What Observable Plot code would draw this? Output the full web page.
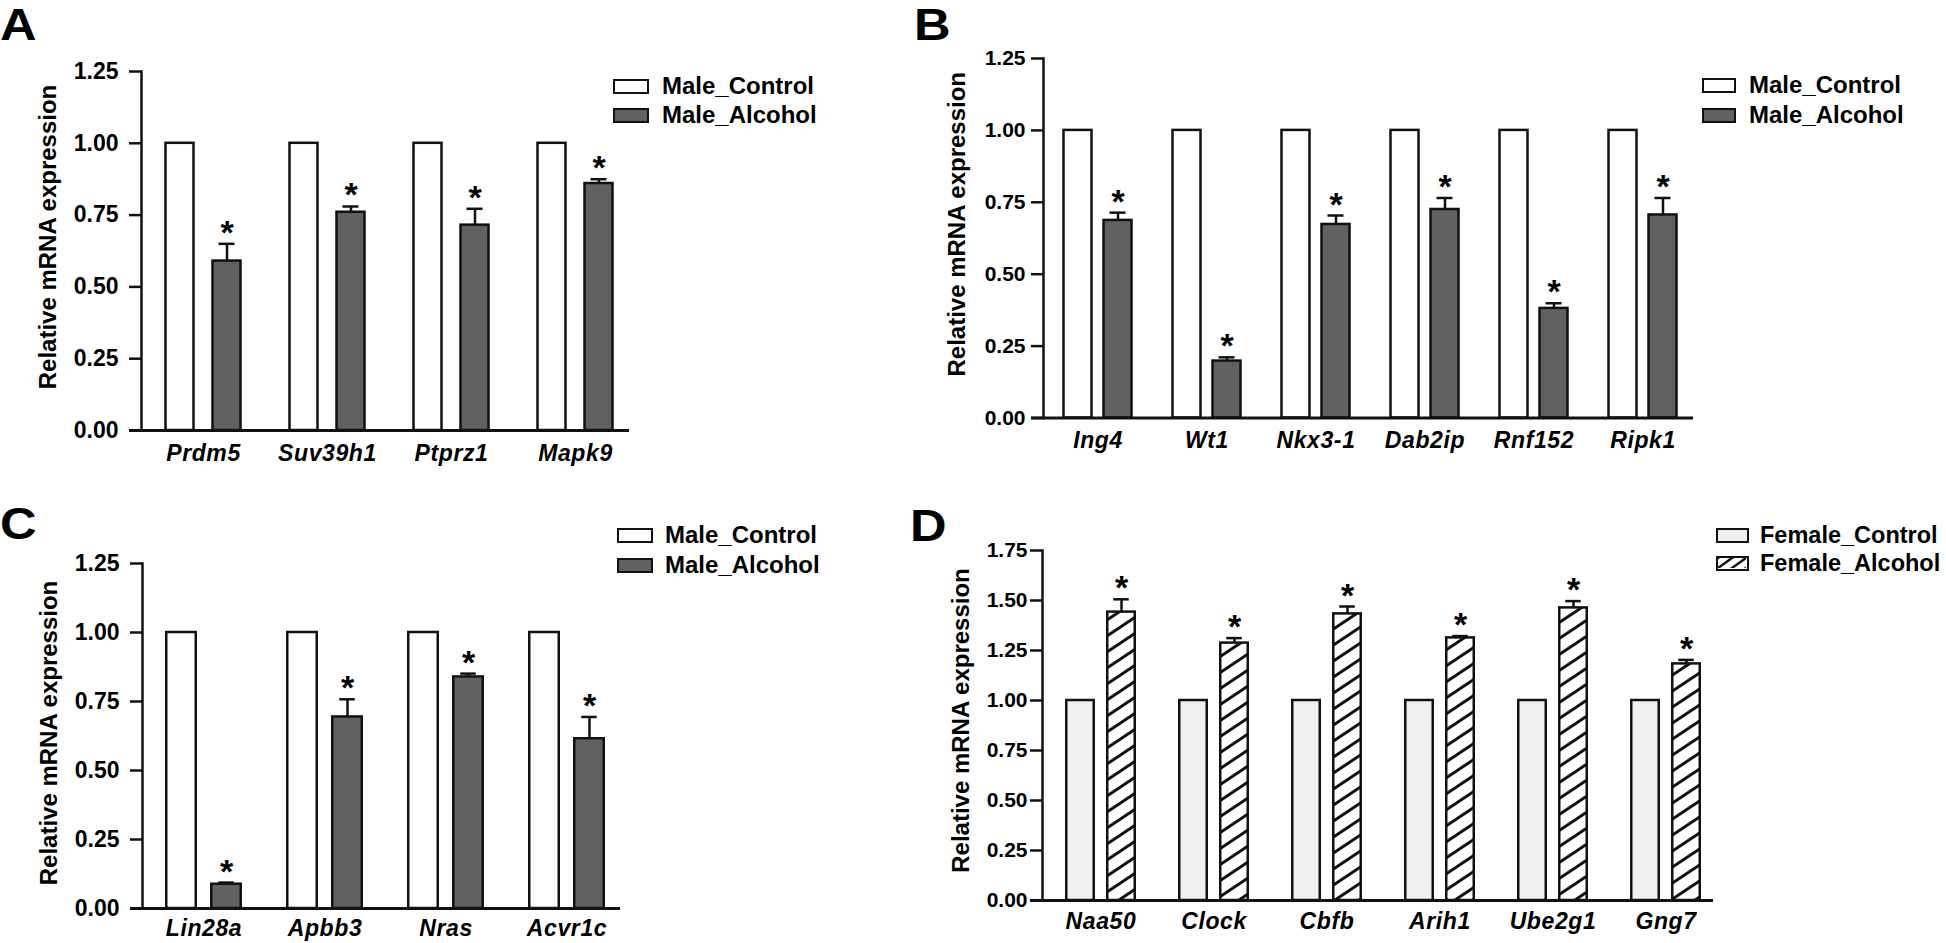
<!DOCTYPE html>
<html><head><meta charset="utf-8">
<script src="https://cdn.jsdelivr.net/npm/d3@7"></script>
<script src="https://cdn.jsdelivr.net/npm/@observablehq/plot@0.6"></script>
<style>
html,body{margin:0;padding:0;background:#fff;}
#root{position:relative;width:1946px;height:943px;overflow:hidden;font-family:"Liberation Sans",Arial,sans-serif;color:#000;}
.panel{position:absolute;}
.panel svg{font-family:"Liberation Sans",Arial,sans-serif;overflow:visible;}
.panel svg g[aria-label="x-axis tick label"] text{letter-spacing:0.6px;}
.letter{position:absolute;font-size:44px;font-weight:bold;line-height:1;transform:scaleX(1.15);transform-origin:0 0;}
.lrow{position:absolute;display:flex;align-items:center;white-space:nowrap;font-weight:bold;height:28px;line-height:28px;}
.sw{box-sizing:border-box;border:2.5px solid #111;height:15px;flex:none;}
</style>
</head><body>
<svg width="0" height="0" style="position:absolute">
  <defs>
    <pattern id="hatch" patternUnits="userSpaceOnUse" width="24" height="16">
      <rect width="24" height="16" fill="#fff"></rect>
      <path d="M0,16 L24,0 M-3,2 L3,-2 M21,18 L27,14" stroke="#111" stroke-width="3"></path>
    </pattern>
    <pattern id="hatchS" patternUnits="userSpaceOnUse" width="14" height="10">
      <rect width="14" height="10" fill="#fff"></rect>
      <path d="M0,10 L14,0 M-3,2 L3,-2 M11,12 L17,8" stroke="#111" stroke-width="2.5"></path>
    </pattern>
  </defs>
</svg>
<div id="root"></div>
<script>
// ---- data ----
const genesA = ["Prdm5", "Suv39h1", "Ptprz1", "Mapk9"];
const ctrlA = [1, 1, 1, 1];
const alcA = [0.59, 0.76, 0.715, 0.86];
const errA = [0.06, 0.02, 0.057, 0.015];

const genesB = ["Ing4", "Wt1", "Nkx3-1", "Dab2ip", "Rnf152", "Ripk1"];
const ctrlB = [1, 1, 1, 1, 1, 1];
const alcB = [0.687, 0.198, 0.673, 0.725, 0.381, 0.706];
const errB = [0.027, 0.013, 0.031, 0.04, 0.018, 0.059];

const genesC = ["Lin28a", "Apbb3", "Nras", "Acvr1c"];
const ctrlC = [1, 1, 1, 1];
const alcC = [0.088, 0.694, 0.839, 0.615];
const errC = [0.006, 0.064, 0.012, 0.079];

const genesD = ["Naa50", "Clock", "Cbfb", "Arih1", "Ube2g1", "Gng7"];
const ctrlD = [1, 1, 1, 1, 1, 1];
const alcD = [1.442, 1.287, 1.433, 1.313, 1.463, 1.183];
const errD = [0.064, 0.025, 0.037, 0.009, 0.034, 0.02];

const ticksMale = [0, 0.25, 0.5, 0.75, 1.0, 1.25];
const ticksFemale = [0, 0.25, 0.5, 0.75, 1.0, 1.25, 1.5, 1.75];

const yTitle = "Relative mRNA expression";
const maleLegend = ["Male_Control", "Male_Alcohol"];
const femaleLegend = ["Female_Control", "Female_Alcohol"];
const panelLetters = ["A", "B", "C", "D"];

const root = document.getElementById("root");

function makePanel(cfg) {
  const rows = cfg.genes.map((g, i) => ({gene: g, c: cfg.ctrl[i], v: cfg.alc[i], e: cfg.err[i]}));
  const n = cfg.genes.length;
  const W = cfg.mL + cfg.mR + n * cfg.step;
  const s = cfg.step, w = cfg.bw, g = cfg.gap;
  const outer = (s - 2 * w - g) / 2;
  const off = g / 2 + w / 2; // alcohol center offset from band center
  const cap = 8;
  const plot = Plot.plot({
    width: W,
    height: cfg.H,
    marginLeft: cfg.mL,
    marginRight: cfg.mR,
    marginTop: cfg.mT,
    marginBottom: cfg.mB,
    style: {fontFamily: "'Liberation Sans', Arial, sans-serif", background: "transparent", color: "#111"},
    x: {type: "band", domain: cfg.genes, padding: 0},
    y: {domain: [0, cfg.yMax]},
    marks: [
      Plot.barY(rows, {x: "gene", y: "c", fill: cfg.ctrlFill, stroke: "#111", strokeWidth: 2.5,
        insetLeft: outer, insetRight: s - outer - w}),
      Plot.ruleX(rows, {x: "gene", y1: "v", y2: d => d.v + d.e, dx: off, stroke: "#111", strokeWidth: 2.5}),
      Plot.tickY(rows, {x: "gene", y: d => d.v + d.e, stroke: "#111", strokeWidth: 2.5,
        insetLeft: s / 2 + off - cap, insetRight: s / 2 - off - cap}),
      Plot.barY(rows, {x: "gene", y: "v", fill: cfg.alcFill, stroke: "#111", strokeWidth: 2.5,
        insetLeft: s - outer - w, insetRight: outer}),
      Plot.text(rows, {x: "gene", y: d => d.v + d.e, text: () => "*", dx: off, lineAnchor: "bottom",
        fontSize: 34, fontWeight: "bold", fill: "#000"}),
      Plot.frame({anchor: "left", stroke: "#111", strokeWidth: 2.5}),
      Plot.ruleY([0], {stroke: "#111", strokeWidth: 2.8, insetLeft: -12, insetRight: cfg.axisInsetR}),
      Plot.axisY({ticks: cfg.yTicks, tickFormat: d3.format(".2f"), tickSize: 12, tickPadding: cfg.tickPad,
        strokeWidth: 2.5, stroke: "#111", fontSize: cfg.tickFont, fontWeight: "bold", fill: "#000", label: null}),
      Plot.axisX({tickSize: 0, tickPadding: cfg.genePad, fontSize: cfg.geneFont, fontWeight: "bold",
        fontStyle: "italic", fill: "#000", label: null}),
      Plot.text([yTitle], {frameAnchor: "left", textAnchor: "middle", lineAnchor: "middle", rotate: -90,
        dx: cfg.titleDx, dy: cfg.titleDy, fontSize: 24, fontWeight: "bold", fill: "#000"})
    ]
  });
  const div = document.createElement("div");
  div.className = "panel";
  div.style.left = cfg.left + "px";
  div.style.top = cfg.top + "px";
  div.appendChild(plot);
  root.appendChild(div);
}

function makeLegend(labels, fills, lg) {
  labels.forEach((lab, i) => {
    const row = document.createElement("div");
    row.className = "lrow";
    row.style.left = lg.x + "px";
    row.style.top = (lg.y[i] - 14) + "px";
    row.style.fontSize = lg.font + "px";
    const sw = document.createElement("div");
    sw.className = "sw";
    sw.style.width = lg.w + "px";
    sw.style.marginRight = lg.gap + "px";
    if (fills[i] === "hatch") {
      sw.style.background = "#fff";
      sw.innerHTML = '<svg width="' + (lg.w - 5) + '" height="10" style="display:block"><rect width="100%" height="100%" fill="url(#hatchS)"/></svg>';
    } else {
      sw.style.background = fills[i];
    }
    row.appendChild(sw);
    const t = document.createElement("span");
    t.textContent = lab;
    row.appendChild(t);
    root.appendChild(row);
  });
}

function makeLetter(txt, x, y) {
  const d = document.createElement("div");
  d.className = "letter";
  d.textContent = txt;
  d.style.left = x + "px";
  d.style.top = y + "px";
  root.appendChild(d);
}

const GRAY = "#616161";

makePanel({genes: genesA, ctrl: ctrlA, alc: alcA, err: errA, yMax: 1.25, yTicks: ticksMale,
  left: 0, top: 0, H: 480, mL: 141, mR: 263, mT: 71, mB: 50, step: 124, bw: 28, gap: 19,
  ctrlFill: "#fff", alcFill: GRAY, tickFont: 23, tickPad: 11, geneFont: 23, genePad: 13.7,
  axisInsetR: 8, titleDx: -93, titleDy: -14});
makePanel({genes: genesB, ctrl: ctrlB, alc: alcB, err: errB, yMax: 1.25, yTicks: ticksMale,
  left: 900, top: 0, H: 480, mL: 143, mR: 249, mT: 58, mB: 62.5, step: 109, bw: 28, gap: 12,
  ctrlFill: "#fff", alcFill: GRAY, tickFont: 21, tickPad: 6, geneFont: 23, genePad: 13.7,
  axisInsetR: 4, titleDx: -86, titleDy: -14});
makePanel({genes: genesC, ctrl: ctrlC, alc: alcC, err: errC, yMax: 1.25, yTicks: ticksMale,
  left: 0, top: 470, H: 473, mL: 142, mR: 272, mT: 93, mB: 35, step: 121.5, bw: 30, gap: 15,
  ctrlFill: "#fff", alcFill: GRAY, tickFont: 23, tickPad: 11, geneFont: 23, genePad: 10.7,
  axisInsetR: 8, titleDx: -93, titleDy: -3});
makePanel({genes: genesD, ctrl: ctrlD, alc: alcD, err: errD, yMax: 1.75, yTicks: ticksFemale,
  left: 900, top: 470, H: 473, mL: 142, mR: 223, mT: 80, mB: 43, step: 113.5, bw: 28, gap: 13,
  ctrlFill: "#f0f0f0", alcFill: "url(#hatch)", tickFont: 21, tickPad: 3, geneFont: 23, genePad: 11.7,
  axisInsetR: 10, titleDx: -81, titleDy: -5});

makeLegend(maleLegend, ["#fff", GRAY], {x: 613, y: [86, 115], w: 36, gap: 13, font: 24});
makeLegend(maleLegend, ["#fff", GRAY], {x: 1702, y: [85, 115], w: 34, gap: 13, font: 24});
makeLegend(maleLegend, ["#fff", GRAY], {x: 617, y: [535, 565], w: 36, gap: 12, font: 24});
makeLegend(femaleLegend, ["#f0f0f0", "hatch"], {x: 1716, y: [535, 563], w: 33, gap: 11, font: 23.5});

makeLetter(panelLetters[0], 0, 3);
makeLetter(panelLetters[1], 914, 3);
makeLetter(panelLetters[2], 0, 502);
makeLetter(panelLetters[3], 910, 504);
</script>
</body></html>
